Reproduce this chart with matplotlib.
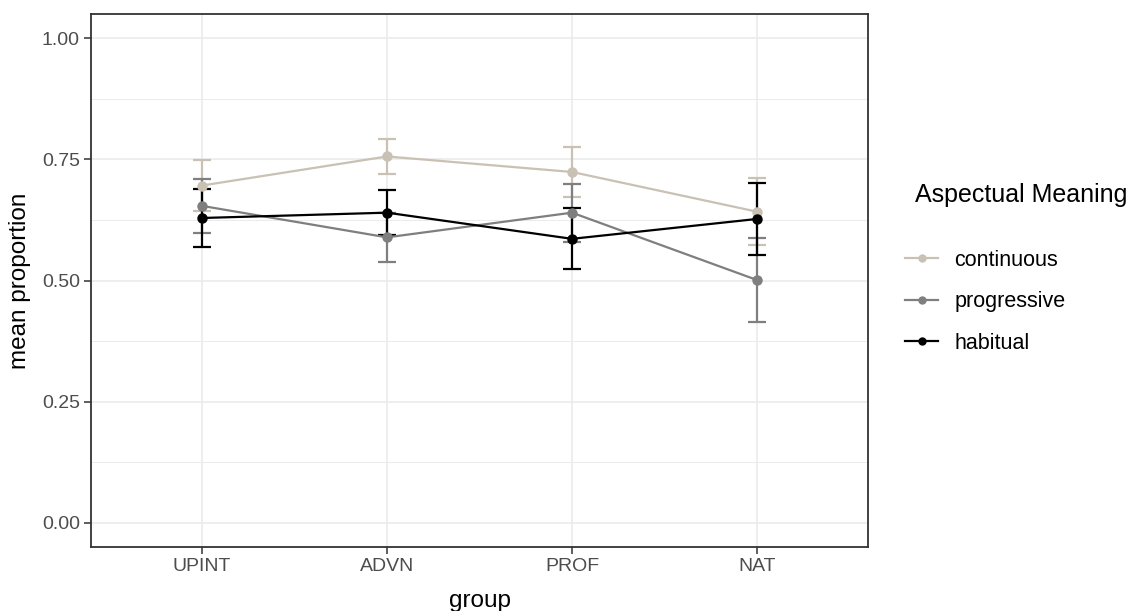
import numpy as np
import matplotlib
matplotlib.use('Agg')
import matplotlib.pyplot as plt
from matplotlib.ticker import MultipleLocator

plt.rcParams['font.family'] = ['Liberation Sans', 'DejaVu Sans']

# data
groups = ['UPINT', 'ADVN', 'PROF', 'NAT']
meanings = ['continuous', 'progressive', 'habitual']
continuous_mean = [0.696, 0.756, 0.724, 0.642]
continuous_err = [0.053, 0.037, 0.051, 0.069]
progressive_mean = [0.654, 0.589, 0.640, 0.501]
progressive_err = [0.056, 0.051, 0.060, 0.087]
habitual_mean = [0.629, 0.640, 0.586, 0.627]
habitual_err = [0.060, 0.047, 0.063, 0.074]

means = [continuous_mean, progressive_mean, habitual_mean]
errs = [continuous_err, progressive_err, habitual_err]
colours = ['#c9c1b3', '#7f7f7f', '#000000']

fig = plt.figure(figsize=(11.32, 6.11), dpi=100)
ax = fig.add_axes([91 / 1132, 64 / 611, 777 / 1132, 533 / 611])

x = np.arange(len(groups))
handles = []
for m, e, c, lab in zip(means, errs, colours, meanings):
    ax.errorbar(x, m, yerr=e, color=c, ecolor=c, elinewidth=1.6, capsize=6.5,
                capthick=1.6, lw=1.6, marker='o', ms=6.5, zorder=3)
    h, = ax.plot([], [], color=c, lw=1.6, marker='o', ms=5, label=lab)
    handles.append(h)

ax.set_xlim(-0.6, len(groups) - 0.4)
ax.set_ylim(-0.05, 1.05)
ax.set_xticks(x)
ax.set_xticklabels(groups)
ax.set_yticks([0, 0.25, 0.5, 0.75, 1.0])
ax.set_yticklabels(['0.00', '0.25', '0.50', '0.75', '1.00'])
ax.yaxis.set_minor_locator(MultipleLocator(0.125))
ax.tick_params(axis='y', which='minor', length=0)
ax.tick_params(which='major', length=5, width=1.1, color='#333333',
               labelsize=14, labelcolor='#4d4d4d', pad=3)
ax.grid(which='major', color='#ebebeb', lw=1.2)
ax.grid(which='minor', axis='y', color='#ebebeb', lw=0.7)
ax.set_axisbelow(True)
for s in ax.spines.values():
    s.set_color('#333333')
    s.set_linewidth(1.3)

ax.set_xlabel('group', fontsize=17.5, labelpad=11)
ax.set_ylabel('mean proportion', fontsize=17.5, labelpad=8)

fig.text(915 / 1132, 1 - 195 / 611, 'Aspectual Meaning', fontsize=18,
         va='center', ha='left')
fig.legend(handles=handles, loc='upper left',
           bbox_to_anchor=(905 / 1132, 1 - 250 / 611), frameon=False,
           fontsize=15.5, handlelength=1.55, handletextpad=0.75,
           labelspacing=0.95, borderpad=0, borderaxespad=0)

fig.savefig('out.png', dpi=100)
